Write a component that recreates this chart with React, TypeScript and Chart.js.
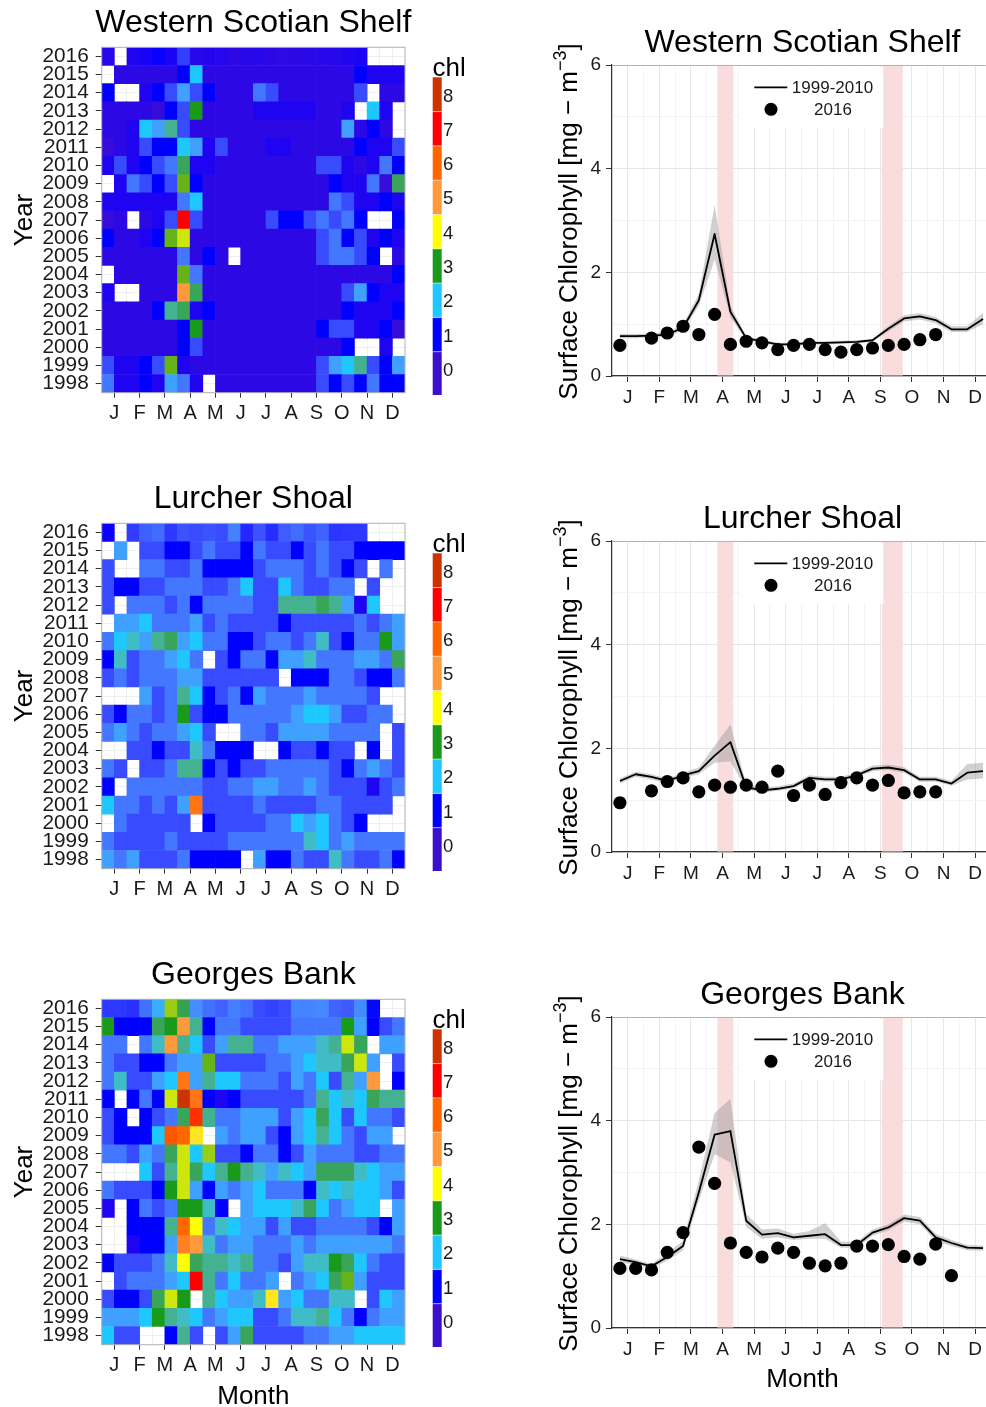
import React, { useEffect, useRef } from 'react';
import { Chart, registerables } from 'chart.js';

Chart.register(...registerables);

const FONT = "'Liberation Sans', Arial, Helvetica, sans-serif";
const TEXT = '#1a1a1a';

// ---------- shared axes ----------
const MONTH_LABELS = ['J', 'F', 'M', 'A', 'M', 'J', 'J', 'A', 'S', 'O', 'N', 'D'];
const MONTH_TICKS = [0.5, 1.5, 2.5, 3.5, 4.5, 5.5, 6.5, 7.5, 8.5, 9.5, 10.5, 11.5];
const MONTH_EDGES = [0, 1, 2, 3, 4, 5, 6, 7, 8, 9, 10, 11];
const HALF_MONTH_X = [0.25, 0.75, 1.25, 1.75, 2.25, 2.75, 3.25, 3.75, 4.25, 4.75, 5.25, 5.75,
  6.25, 6.75, 7.25, 7.75, 8.25, 8.75, 9.25, 9.75, 10.25, 10.75, 11.25, 11.75];
const YEARS = [1998, 1999, 2000, 2001, 2002, 2003, 2004, 2005, 2006, 2007, 2008, 2009, 2010,
  2011, 2012, 2013, 2014, 2015, 2016];
const CHL_TICKS = [0, 1, 2, 3, 4, 5, 6];
const CHL_LABELED = [0, 2, 4, 6];
const COLORBAR_LEVELS = [0, 1, 2, 3, 4, 5, 6, 7, 8];
const COLOR_STOPS = ['#3b0fcc', '#0000ff', '#1ec8ff', '#1a9a1a', '#ffff00', '#ff9a3c', '#ff6600', '#ff0000', '#cc3300'];
const BANDS = [[3.34, 3.84], [8.55, 9.21]];
const LEGEND_LINE = '1999-2010';
const LEGEND_POINTS = '2016';
// heat-map cell code: index in CODE / 4 = chlorophyll value, '.' = no data
const CODE = '0123456789abcdefghijklmnopqrstuvw';

// ---------- Western Scotian Shelf ----------
const WSS_TITLE = 'Western Scotian Shelf';
const WSS_CLIM = [0.77, 0.77, 0.78, 0.80, 0.93, 1.46, 2.74, 1.24, 0.73, 0.67, 0.61, 0.61, 0.64, 0.64, 0.65, 0.66, 0.69, 0.91, 1.11, 1.15, 1.08, 0.90, 0.90, 1.10];
const WSS_LOW = [0.73, 0.73, 0.74, 0.76, 0.88, 1.35, 2.25, 1.13, 0.69, 0.64, 0.58, 0.58, 0.61, 0.61, 0.62, 0.63, 0.66, 0.86, 1.05, 1.09, 1.02, 0.85, 0.85, 1.00];
const WSS_HIGH = [0.81, 0.81, 0.82, 0.85, 0.99, 1.58, 3.30, 1.36, 0.77, 0.70, 0.64, 0.64, 0.67, 0.67, 0.68, 0.69, 0.72, 0.96, 1.17, 1.21, 1.14, 0.96, 0.96, 1.22];
const WSS_2016 = [0.59, null, 0.73, 0.83, 0.96, 0.80, 1.19, 0.61, 0.67, 0.64, 0.51, 0.59, 0.61, 0.51, 0.46, 0.51, 0.54, 0.59, 0.61, 0.70, 0.80, null, null, null];
const WSS_GRID = [ // 2015 -> 1998
  '.22222 482222 222222 224333',
  '4..345 754222 652222 225.22',
  '222214 5c2222 333332 23.83.',
  '22387a 522222 222222 27242.',
  '123544 873522 233222 224335',
  '353456 b33222 222225 532364',
  '.36545 d42222 222222 43361b',
  '333333 682222 222222 653343',
  '12.235 s52222 254456 564..4',
  '42234d f22222 222225 645343',
  '222222 6242.2 222225 6654.2',
  '.22222 d62222 222222 222224',
  '3..222 kb2222 222222 257433',
  '22224a b34222 222222 243334',
  '222222 4c2222 222224 553341',
  '222222 452222 222222 24..3.',
  '53345d 322222 222225 78a547',
  '633437 63.222 222225 454644',
];

// ---------- Lurcher Shoal ----------
const LS_TITLE = 'Lurcher Shoal';
const LS_CLIM = [1.37, 1.50, 1.45, 1.37, 1.48, 1.56, 1.86, 2.12, 1.25, 1.19, 1.22, 1.27, 1.43, 1.40, 1.40, 1.48, 1.61, 1.63, 1.58, 1.40, 1.40, 1.32, 1.53, 1.56];
const LS_LOW = [1.32, 1.45, 1.40, 1.32, 1.43, 1.50, 1.72, 1.75, 1.20, 1.15, 1.18, 1.23, 1.38, 1.36, 1.36, 1.44, 1.56, 1.58, 1.53, 1.35, 1.36, 1.28, 1.40, 1.42];
const LS_HIGH = [1.42, 1.55, 1.50, 1.42, 1.53, 1.63, 2.05, 2.46, 1.31, 1.24, 1.27, 1.32, 1.48, 1.45, 1.45, 1.53, 1.67, 1.69, 1.64, 1.45, 1.45, 1.37, 1.70, 1.72];
const LS_2016 = [0.95, null, 1.18, 1.36, 1.43, 1.16, 1.29, 1.25, 1.29, 1.25, 1.56, 1.09, 1.29, 1.11, 1.34, 1.43, 1.29, 1.38, 1.14, 1.16, 1.16, null, null, null];
const LS_GRID = [ // 2015 -> 1998
  '.7.554 456554 655456 554444',
  '5..665 564444 566656 545.6.',
  '544556 665568 558655 66.5..',
  '5.6665 646666 55aaab a738..',
  '.77866 675655 554555 556567',
  '6897ab 786644 566569 5466c7',
  '495667 86.546 647796 66776b',
  '565666 775555 55.444 665446',
  '...756 a84564 766676 6665..',
  '546656 c54466 666788 75566.',
  '676566 785..6 657777 6666.5',
  '..5545 596444 ..4554 55.4.5',
  '65.556 aa4545 566666 546765',
  '4.6666 665566 776676 555356',
  '866565 7n5555 655556 65555.',
  '.65555 5.4555 566878 654...',
  '655556 555566 666698 676666',
  '767555 64444. 744655 965564',
];

// ---------- Georges Bank ----------
const GB_TITLE = 'Georges Bank';
const GB_CLIM = [1.33, 1.27, 1.19, 1.37, 1.58, 2.62, 3.73, 3.80, 2.07, 1.80, 1.83, 1.75, 1.78, 1.81, 1.60, 1.60, 1.84, 1.94, 2.12, 2.07, 1.75, 1.64, 1.55, 1.54];
const GB_LOW = [1.27, 1.22, 1.15, 1.30, 1.50, 2.45, 3.35, 3.20, 1.95, 1.72, 1.75, 1.70, 1.72, 1.72, 1.55, 1.55, 1.78, 1.88, 2.05, 2.00, 1.68, 1.58, 1.50, 1.49];
const GB_HIGH = [1.40, 1.32, 1.23, 1.45, 1.68, 2.85, 4.15, 4.42, 2.20, 1.90, 1.92, 1.82, 1.87, 2.02, 1.67, 1.66, 1.90, 2.00, 2.19, 2.14, 1.82, 1.70, 1.60, 1.59];
const GB_2016 = [1.15, 1.15, 1.12, 1.46, 1.84, 3.49, 2.79, 1.64, 1.46, 1.37, 1.54, 1.46, 1.25, 1.20, 1.25, 1.58, 1.58, 1.61, 1.38, 1.33, 1.62, 1.01, null, null];
const GB_GRID = [ // 2015 -> 1998
  'c444bc ka4665 555666 6c7456',
  '66.69k a857aa 667779 afb.77',
  '655446 77d555 566789 9bf7.5',
  '695578 n7a886 665768 5a7k.4',
  '4.464f wn4345 55556a 898baa',
  '54.456 bra667 77578b 858665',
  '54448p oh.767 75478a 86577.',
  '66576b f8e554 664576 665566',
  '...85a fb8aca 97987b bb9877',
  '65554c f74767 866649 898875',
  '3.4656 cc94.7 8889b8 6788.7',
  '..444a og6987 757556 666547',
  '..3447 mk9677 666767 777776',
  '455569 gbaa9a 665799 cb8655',
  '.56667 8sa686 67.678 bd7555',
  '5445bf c.a877 9h7866 99.587',
  '7778ca 986788 55699a 864677',
  '855..4 a5.57b 555566 778888',
];

// ---------- colour scale (Lab interpolation between stops) ----------
type V3 = [number, number, number];
function hexToRgb(h: string): V3 {
  const n = parseInt(h.slice(1), 16);
  return [(n >> 16) & 255, (n >> 8) & 255, n & 255];
}
const toLin = (c: number) => { c /= 255; return c <= 0.04045 ? c / 12.92 : Math.pow((c + 0.055) / 1.055, 2.4); };
const fromLin = (c: number) => {
  const v = c <= 0.0031308 ? 12.92 * c : 1.055 * Math.pow(Math.max(c, 0), 1 / 2.4) - 0.055;
  return Math.max(0, Math.min(255, Math.round(v * 255)));
};
function rgbToLab(rgb: V3): V3 {
  const [r, g, b] = rgb.map(toLin);
  const X = (0.4124564 * r + 0.3575761 * g + 0.1804375 * b) / 0.95047;
  const Y = 0.2126729 * r + 0.7151522 * g + 0.072175 * b;
  const Z = (0.0193339 * r + 0.119192 * g + 0.9503041 * b) / 1.08883;
  const f = (t: number) => (t > 0.008856 ? Math.cbrt(t) : 7.787 * t + 16 / 116);
  const fx = f(X), fy = f(Y), fz = f(Z);
  return [116 * fy - 16, 500 * (fx - fy), 200 * (fy - fz)];
}
function labToRgb(lab: V3): V3 {
  const [L, a, b] = lab;
  const fy = (L + 16) / 116, fx = fy + a / 500, fz = fy - b / 200;
  const inv = (t: number) => (t * t * t > 0.008856 ? t * t * t : (t - 16 / 116) / 7.787);
  const X = inv(fx) * 0.95047, Y = inv(fy), Z = inv(fz) * 1.08883;
  const r = 3.2404542 * X - 1.5371385 * Y - 0.4985314 * Z;
  const g = -0.969266 * X + 1.8760108 * Y + 0.041556 * Z;
  const bb = 0.0556434 * X - 0.2040259 * Y + 1.0572252 * Z;
  return [fromLin(r), fromLin(g), fromLin(bb)];
}
const STOP_LABS = COLOR_STOPS.map((h) => rgbToLab(hexToRgb(h)));
function colorFor(v: number): string {
  const c = Math.max(0, Math.min(8, v));
  const i = Math.min(7, Math.floor(c));
  const t = c - i;
  const A = STOP_LABS[i], B = STOP_LABS[i + 1];
  const [r, g, b] = labToRgb([A[0] + (B[0] - A[0]) * t, A[1] + (B[1] - A[1]) * t, A[2] + (B[2] - A[2]) * t]);
  return `rgb(${r},${g},${b})`;
}

const isMid = (v: number) => Math.abs((v % 1) - 0.5) < 0.01;
const X_TICKS = [...MONTH_EDGES, ...MONTH_TICKS].sort((a, b) => a - b);

// ---------- heat map panel ----------
function Heatmap({ top, height, title, grid, s2016, showMonth }:
  { top: number; height: number; title: string; grid: string[]; s2016: (number | null)[]; showMonth: boolean }) {
  const ref = useRef<HTMLCanvasElement>(null);
  useEffect(() => {
    const W = 500;
    const PLOT = { left: 101.7, top: 47.3, right: 405, bottom: 392.7 };
    const rows: { year: number; vals: (number | null)[] }[] = [{ year: YEARS[YEARS.length - 1], vals: s2016 }];
    grid.forEach((str, i) => {
      const clean = str.replace(/\s/g, '');
      const vals = HALF_MONTH_X.map((_, c) => {
        const ch = clean[c];
        if (!ch || ch === '.') return null;
        const idx = CODE.indexOf(ch);
        return idx < 0 ? null : idx / 4;
      });
      rows.push({ year: YEARS[YEARS.length - 2 - i], vals });
    });
    const cells: { x: number; y: [number, number] }[] = [];
    const colors: string[] = [];
    rows.forEach((r) => r.vals.forEach((v, c) => {
      if (v == null) return;
      cells.push({ x: HALF_MONTH_X[c], y: [r.year - 0.5, r.year + 0.5] });
      colors.push(colorFor(v));
    }));

    const deco = {
      id: 'heatDeco',
      afterDraw(chart: any) {
        const { ctx, chartArea: a } = chart;
        ctx.save();
        ctx.strokeStyle = '#b0b0b0';
        ctx.lineWidth = 1;
        ctx.strokeRect(a.left, a.top, a.right - a.left, a.bottom - a.top);
        ctx.fillStyle = '#000';
        ctx.textBaseline = 'alphabetic';
        ctx.textAlign = 'center';
        ctx.font = `32px ${FONT}`;
        ctx.fillText(title, (a.left + a.right) / 2, 32);
        ctx.font = `26px ${FONT}`;
        ctx.save();
        ctx.translate(31.5, (a.top + a.bottom) / 2);
        ctx.rotate(-Math.PI / 2);
        ctx.fillText('Year', 0, 0);
        ctx.restore();
        if (showMonth) ctx.fillText('Month', (a.left + a.right) / 2, 1404 - top);
        // colour bar legend
        ctx.textAlign = 'left';
        ctx.fillText('chl', 432.5, 76);
        const step = 34.3, y8 = 77.3;
        COLORBAR_LEVELS.forEach((lv) => {
          const t = y8 + step * (8 - lv);
          const b = lv === 0 ? 395 : t + step;
          ctx.fillStyle = COLOR_STOPS[lv];
          ctx.fillRect(432.7, t, 9, b - t);
        });
        ctx.strokeStyle = 'rgba(255,255,255,0.55)';
        for (let k = 1; k < 9; k++) {
          const yy = y8 + step * k;
          ctx.beginPath(); ctx.moveTo(432.7, yy); ctx.lineTo(441.7, yy); ctx.stroke();
        }
        ctx.fillStyle = TEXT;
        ctx.font = `18.5px ${FONT}`;
        ctx.textBaseline = 'middle';
        COLORBAR_LEVELS.forEach((lv) => {
          ctx.fillText(String(lv), 443, y8 + step * (8 - lv) + step / 2 + 2);
        });
        ctx.restore();
      },
    };

    const chart = new Chart(ref.current as HTMLCanvasElement, {
      type: 'bar',
      data: {
        datasets: [{
          data: cells as any,
          backgroundColor: colors,
          borderWidth: 0,
          grouped: false,
          barPercentage: 1,
          categoryPercentage: 1,
        } as any],
      },
      options: {
        animation: false,
        responsive: false,
        devicePixelRatio: 1,
        events: [],
        layout: { autoPadding: false, padding: { left: 0, top: PLOT.top, right: W - PLOT.right, bottom: 0 } },
        plugins: { legend: { display: false }, tooltip: { enabled: false } },
        scales: {
          x: {
            type: 'linear', min: 0, max: 12, offset: false,
            afterBuildTicks: (s: any) => { s.ticks = X_TICKS.map((v) => ({ value: v })); },
            afterFit: (s: any) => { s.height = height - PLOT.bottom; },
            grid: {
              offset: false, color: '#efefef', lineWidth: 1, tickLength: 5,
              tickColor: (c: any) => (isMid(c.tick.value) ? '#333' : 'rgba(0,0,0,0)'),
            },
            border: { display: false },
            ticks: {
              autoSkip: false, maxRotation: 0, minRotation: 0, padding: 4, color: TEXT,
              font: { family: FONT, size: 20 },
              callback: (v: any) => (isMid(Number(v)) ? MONTH_LABELS[Math.floor(Number(v))] : ''),
            },
          },
          y: {
            type: 'linear', min: YEARS[0] - 0.5, max: YEARS[YEARS.length - 1] + 0.5, beginAtZero: false,
            afterBuildTicks: (s: any) => { s.ticks = YEARS.map((v) => ({ value: v })); },
            afterFit: (s: any) => { s.width = PLOT.left; },
            grid: { color: '#efefef', lineWidth: 1, tickLength: 6, tickColor: '#333' },
            border: { display: false },
            ticks: {
              autoSkip: false, padding: 7, color: TEXT,
              font: { family: FONT, size: 20.8 },
              callback: (v: any) => String(v),
            },
          },
        },
      } as any,
      plugins: [deco],
    });
    return () => chart.destroy();
  }, []);
  return (
    <canvas ref={ref} width={500} height={height}
      style={{ position: 'absolute', left: 0, top, width: 500, height }} />
  );
}

// ---------- line / ribbon panel ----------
function LinePanel({ top, height, title, clim, low, high, s2016, showMonth }:
  { top: number; height: number; title: string; clim: number[]; low: number[]; high: number[]; s2016: (number | null)[]; showMonth: boolean }) {
  const ref = useRef<HTMLCanvasElement>(null);
  useEffect(() => {
    const LEFT = 500;
    const PLOT = { left: 112, top: 65, bottom: 376 };
    const toXY = (arr: (number | null)[]) => arr
      .map((v, i) => (v == null ? null : { x: HALF_MONTH_X[i], y: v }))
      .filter((p) => p !== null);

    const deco = {
      id: 'lineDeco',
      beforeDatasetsDraw(chart: any) {
        const { ctx, chartArea: a, scales } = chart;
        const x = scales.x;
        ctx.save();
        ctx.fillStyle = '#f9dddd';
        BANDS.forEach(([b0, b1]) => {
          const p0 = x.getPixelForValue(b0), p1 = x.getPixelForValue(b1);
          ctx.fillRect(p0, a.top + 0.5, p1 - p0, a.bottom - a.top - 1);
        });
        // legend
        ctx.fillStyle = '#fff';
        ctx.fillRect(739.3 - LEFT, 66.7, 144, 61.6);
        ctx.strokeStyle = '#000';
        ctx.lineWidth = 1.8;
        ctx.beginPath(); ctx.moveTo(754.3 - LEFT, 87.3); ctx.lineTo(787.3 - LEFT, 87.3); ctx.stroke();
        ctx.fillStyle = '#000';
        ctx.beginPath(); ctx.arc(771 - LEFT, 109.3, 6.5, 0, Math.PI * 2); ctx.fill();
        ctx.fillStyle = TEXT;
        ctx.font = `17px ${FONT}`;
        ctx.textAlign = 'center';
        ctx.textBaseline = 'alphabetic';
        ctx.fillText(LEGEND_LINE, 832.5 - LEFT, 93.4);
        ctx.fillText(LEGEND_POINTS, 833 - LEFT, 115.4);
        ctx.restore();
      },
      afterDraw(chart: any) {
        const { ctx, chartArea: a } = chart;
        ctx.save();
        ctx.strokeStyle = '#b3b3b3';
        ctx.lineWidth = 1;
        ctx.beginPath(); ctx.moveTo(a.left, a.top + 0.5); ctx.lineTo(a.right, a.top + 0.5); ctx.stroke();
        ctx.fillStyle = '#000';
        ctx.textBaseline = 'alphabetic';
        ctx.textAlign = 'center';
        ctx.font = `32px ${FONT}`;
        ctx.fillText(title, 802.5 - LEFT, 51.5);
        if (showMonth) { ctx.font = `26px ${FONT}`; ctx.fillText('Month', 802.5 - LEFT, 1386.5 - top); }
        // rotated y title with superscript
        const main = 'Surface Chlorophyll [mg \u2212 m';
        const sup = '\u22123';
        const end = ']';
        ctx.translate(577 - LEFT, (a.top + a.bottom) / 2 + 1);
        ctx.rotate(-Math.PI / 2);
        ctx.textAlign = 'left';
        ctx.font = `26px ${FONT}`;
        const w1 = ctx.measureText(main).width;
        const w3 = ctx.measureText(end).width;
        ctx.font = `18px ${FONT}`;
        const w2 = ctx.measureText(sup).width;
        let xx = -(w1 + w2 + w3) / 2;
        ctx.font = `26px ${FONT}`;
        ctx.fillText(main, xx, 0); xx += w1;
        ctx.font = `18px ${FONT}`;
        ctx.fillText(sup, xx, -11); xx += w2;
        ctx.font = `26px ${FONT}`;
        ctx.fillText(end, xx, 0);
        ctx.restore();
      },
    };

    const chart = new Chart(ref.current as HTMLCanvasElement, {
      type: 'line',
      data: {
        datasets: [
          { data: toXY(s2016), showLine: false, pointRadius: 6.6, pointBackgroundColor: '#000', pointBorderColor: '#000', pointBorderWidth: 0, order: 0 },
          { data: toXY(clim), borderColor: '#000', borderWidth: 1.8, pointRadius: 0, tension: 0, borderJoinStyle: 'round', fill: false, order: 1 },
          { data: toXY(high), borderColor: 'rgba(0,0,0,0)', borderWidth: 0, pointRadius: 0, tension: 0, fill: '+1', backgroundColor: 'rgba(150,150,150,0.45)', order: 2 },
          { data: toXY(low), borderColor: 'rgba(0,0,0,0)', borderWidth: 0, pointRadius: 0, tension: 0, fill: false, order: 3 },
        ] as any,
      },
      options: {
        animation: false,
        responsive: false,
        devicePixelRatio: 1,
        events: [],
        layout: { autoPadding: false, padding: { left: 0, top: PLOT.top, right: 0, bottom: 0 } },
        plugins: { legend: { display: false }, tooltip: { enabled: false } },
        scales: {
          x: {
            type: 'linear', min: 0, max: 11.84, offset: false,
            afterBuildTicks: (s: any) => { s.ticks = X_TICKS.map((v) => ({ value: v })); },
            afterFit: (s: any) => { s.height = height - PLOT.bottom; },
            grid: {
              color: (c: any) => (isMid(c.tick.value) ? '#e6e6e6' : '#f3f3f3'),
              lineWidth: 1, tickLength: 6,
              tickColor: (c: any) => (isMid(c.tick.value) ? '#333' : 'rgba(0,0,0,0)'),
            },
            border: { display: true, color: '#333', width: 1.2 },
            ticks: {
              autoSkip: false, maxRotation: 0, minRotation: 0, padding: 4, color: TEXT,
              font: { family: FONT, size: 19 },
              callback: (v: any) => (isMid(Number(v)) ? MONTH_LABELS[Math.floor(Number(v))] : ''),
            },
          },
          y: {
            type: 'linear', min: 0, max: 6,
            afterBuildTicks: (s: any) => { s.ticks = CHL_TICKS.map((v) => ({ value: v })); },
            afterFit: (s: any) => { s.width = PLOT.left; },
            grid: {
              color: (c: any) => (CHL_LABELED.includes(c.tick.value) ? '#e6e6e6' : '#f3f3f3'),
              lineWidth: 1, tickLength: 6,
              tickColor: (c: any) => (CHL_LABELED.includes(c.tick.value) ? '#333' : 'rgba(0,0,0,0)'),
            },
            border: { display: true, color: '#333', width: 1.2 },
            ticks: {
              autoSkip: false, padding: 5, color: TEXT,
              font: { family: FONT, size: 19 },
              callback: (v: any) => (CHL_LABELED.includes(Number(v)) ? String(v) : ''),
            },
          },
        },
      } as any,
      plugins: [deco],
    });
    return () => chart.destroy();
  }, []);
  return (
    <canvas ref={ref} width={486} height={height}
      style={{ position: 'absolute', left: 500, top, width: 486, height }} />
  );
}

export default function App() {
  return (
    <div style={{ position: 'absolute', left: 0, top: 0, width: 986, height: 1407, background: '#fff', overflow: 'hidden' }}>
      <Heatmap top={0} height={476} title={WSS_TITLE} grid={WSS_GRID} s2016={WSS_2016} showMonth={false} />
      <Heatmap top={476} height={476} title={LS_TITLE} grid={LS_GRID} s2016={LS_2016} showMonth={false} />
      <Heatmap top={952} height={455} title={GB_TITLE} grid={GB_GRID} s2016={GB_2016} showMonth={true} />
      <LinePanel top={0} height={476} title={WSS_TITLE} clim={WSS_CLIM} low={WSS_LOW} high={WSS_HIGH} s2016={WSS_2016} showMonth={false} />
      <LinePanel top={476} height={476} title={LS_TITLE} clim={LS_CLIM} low={LS_LOW} high={LS_HIGH} s2016={LS_2016} showMonth={false} />
      <LinePanel top={952} height={455} title={GB_TITLE} clim={GB_CLIM} low={GB_LOW} high={GB_HIGH} s2016={GB_2016} showMonth={true} />
    </div>
  );
}
